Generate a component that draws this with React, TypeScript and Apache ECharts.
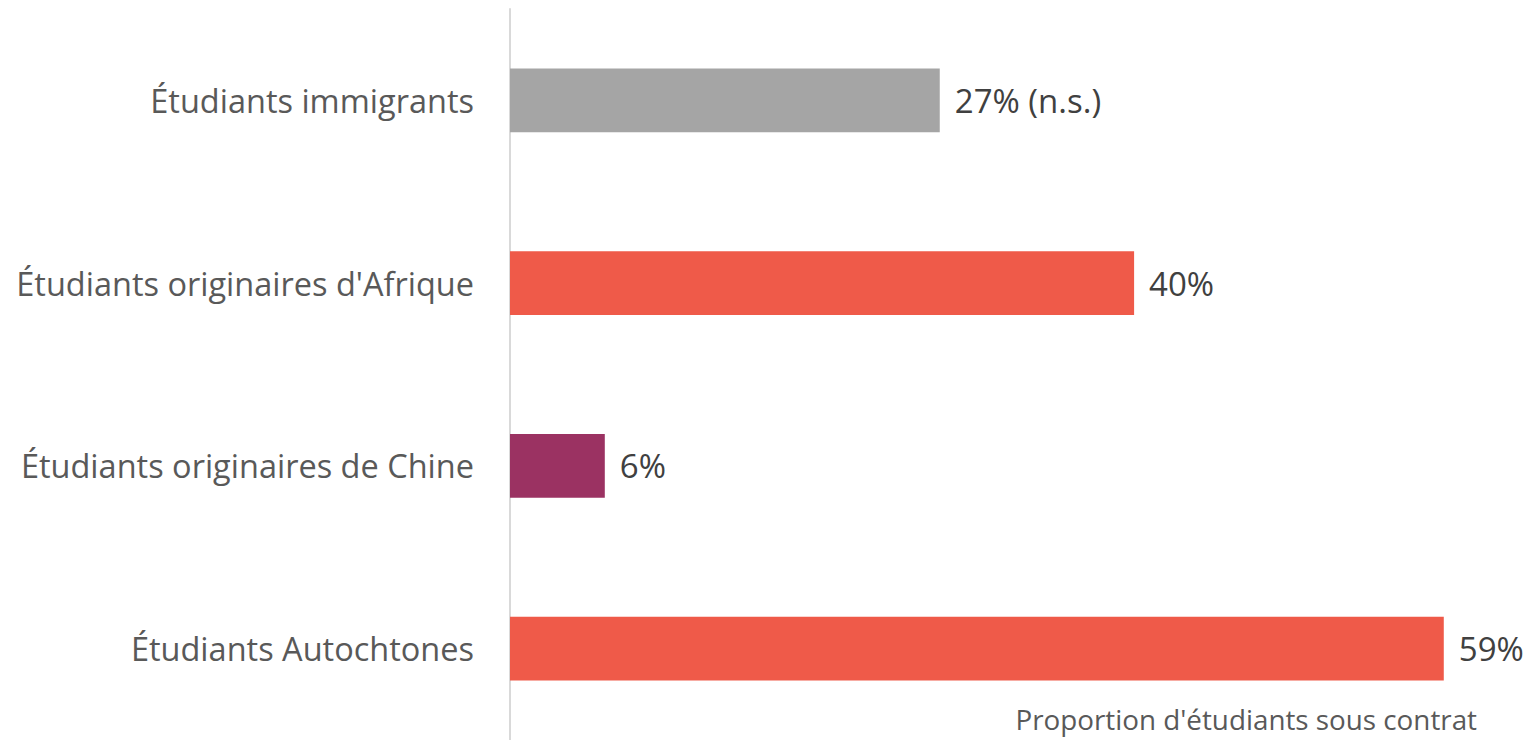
import React, { useEffect, useRef } from "react";
import * as echarts from "echarts";

const categories = [
  "Étudiants immigrants",
  "Étudiants originaires d'Afrique",
  "Étudiants originaires de Chine",
  "Étudiants Autochtones",
];
const values = [27.2, 39.5, 6.0, 59.1];
const valueLabels = ["27% (n.s.)", "40%", "6%", "59%"];
const barColors = ["#a5a5a5", "#ef5a49", "#9b3262", "#ef5a49"];
const axisTitle = "Proportion d'étudiants sous contrat";

const FONT = "'Open Sans', sans-serif";

export default function App() {
  const ref = useRef<HTMLDivElement>(null);
  useEffect(() => {
    if (!ref.current) return;
    const chart = echarts.init(ref.current, undefined, { renderer: "svg" });
    chart.setOption({
      animation: false,
      backgroundColor: "#ffffff",
      grid: { left: 510, right: 72, top: 9, bottom: 0, containLabel: false },
      xAxis: {
        type: "value",
        min: 0,
        max: 60,
        show: false,
      },
      yAxis: {
        type: "category",
        inverse: true,
        data: categories,
        axisLine: { show: true, lineStyle: { color: "#d9d9d9", width: 2 } },
        axisTick: { show: false },
        axisLabel: {
          margin: 36,
          fontSize: 32.5,
          color: "#595959",
          fontFamily: FONT,
        },
      },
      series: [
        {
          type: "bar",
          barWidth: "35%",
          data: values.map((v, i) => ({ value: v, itemStyle: { color: barColors[i] } })),
          label: {
            show: true,
            position: "right",
            distance: 15,
            fontSize: 33,
            color: "#404040",
            fontFamily: FONT,
            formatter: (p: any) => valueLabels[p.dataIndex],
          },
        },
      ],
      graphic: [
        {
          type: "text",
          right: 53,
          top: 705,
          style: {
            text: axisTitle,
            fontSize: 27.8,
            fill: "#595959",
            fontFamily: FONT,
          },
        },
      ],
    });
    return () => chart.dispose();
  }, []);
  return (
    <div
      ref={ref}
      style={{ position: "absolute", left: 0, top: 0, width: 1530, height: 740 }}
    />
  );
}
